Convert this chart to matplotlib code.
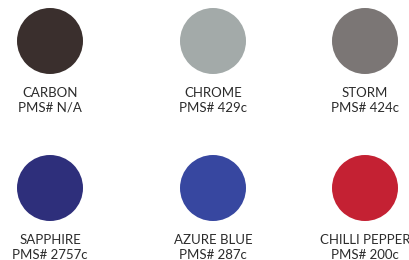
import matplotlib.pyplot as plt
from matplotlib.patches import Circle

names = ["CARBON", "CHROME", "STORM", "SAPPHIRE", "AZURE BLUE", "CHILLI PEPPER"]
pms = ["N/A", "429c", "424c", "2757c", "287c", "200c"]
colors = ["#3a2f2d", "#a3aaa9", "#7b7675", "#2e2f7b", "#3747a0", "#c42133"]

col_x = [50, 213, 365]
row_y = [41, 188]
radius = 33

fig = plt.figure(figsize=(4.1, 2.6), dpi=100, facecolor="white")
ax = fig.add_axes([0, 0, 1, 1])
ax.set_xlim(0, 410)
ax.set_ylim(260, 0)
ax.set_aspect("equal")
ax.axis("off")

for n, (name, code, color) in enumerate(zip(names, pms, colors)):
    cx = col_x[n % 3]
    cy = row_y[n // 3]
    ax.add_patch(Circle((cx, cy), radius, color=color, lw=0))
    ax.text(cx, cy + 52, name, ha="center", va="center", fontsize=9.5,
            family="Lato", color="#2b2b2b")
    ax.text(cx, cy + 67, f"PMS# {code}", ha="center", va="center", fontsize=9.5,
            family="Lato", color="#2b2b2b")

fig.savefig("out.png", dpi=100, facecolor="white")
